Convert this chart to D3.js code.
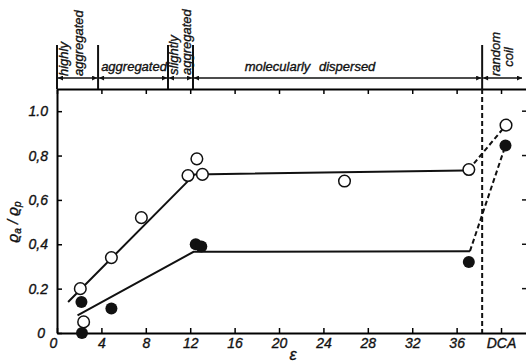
<!DOCTYPE html>
<html>
<head>
<meta charset="utf-8">
<script src="https://cdn.jsdelivr.net/npm/d3@7"></script>
<style>
  body { margin: 0; background: #fff; }
  svg { display: block; }
  text { font-family: "Liberation Sans", Arial, sans-serif; font-style: italic; fill: #111; stroke: #111; stroke-width: 0.35px; }
  .tick text { font-size: 14px; }
  .region { font-size: 13px; }
</style>
</head>
<body>
<div id="chart"></div>
<script>
// ---- data ----
const xTicks = [0, 4, 8, 12, 16, 20, 24, 28, 32, 36, 40];
const xTickLabels = ['0', '4', '8', '12', '16', '20', '24', '28', '32', '36', 'DCA'];
const yTicks = [0, 0.2, 0.4, 0.6, 0.8, 1.0];
const yTickLabels = ['0', '0.2', '0,4', '0,6', '0,8', '1.0'];

const openEps = [2.1, 2.4, 4.9, 7.6, 11.8, 12.6, 13.1, 25.9, 37.1, 40.45];
const openVal = [0.20, 0.05, 0.34, 0.52, 0.71, 0.785, 0.715, 0.685, 0.737, 0.937];
const filledEps = [2.2, 2.25, 4.9, 12.5, 13.0, 37.1, 40.4];
const filledVal = [0.14, 0.0, 0.11, 0.40, 0.39, 0.32, 0.845];

const upperFitEps = [1.0, 12.4, 36.7];
const upperFitVal = [0.14, 0.715, 0.733];
const upperDashEps = [37.1, 40.45];
const upperDashVal = [0.737, 0.937];
const lowerFitEps = [1.85, 12.3, 37.2];
const lowerFitVal = [0.08, 0.366, 0.369];
const lowerDashEps = [37.2, 40.4];
const lowerDashVal = [0.369, 0.845];

const regionBounds = [0, 3.7, 10.0, 12.25, 38.3, 42.25];
const dividerEps = 38.3;

// ---- layout ----
const W = 526, H = 364;
const x = d3.scaleLinear().domain([0, 42.25]).range([57, 526]);
const y = d3.scaleLinear().domain([0, 1.1]).range([333, 89]);

const svg = d3.select('#chart').append('svg').attr('width', W).attr('height', H);

const defs = svg.append('defs');
defs.append('marker').attr('id', 'arr').attr('viewBox', '0 0 10 10')
  .attr('refX', 10).attr('refY', 5).attr('markerWidth', 6).attr('markerHeight', 5)
  .attr('markerUnits', 'userSpaceOnUse').attr('orient', 'auto-start-reverse')
  .append('path').attr('d', 'M0,0L10,5L0,10Z').attr('fill', '#111');

// Axes
const xAxis = d3.axisBottom(x).tickValues(xTicks).tickSizeInner(-5).tickSizeOuter(0)
  .tickPadding(5).tickFormat((d, i) => xTickLabels[i]);
const gx = svg.append('g').attr('transform', `translate(0,${y(0)})`).call(xAxis);
gx.select('.domain').attr('stroke-width', 2);
gx.selectAll('.tick line').attr('stroke-width', 1.5);
gx.selectAll('.tick text').filter((d, i) => i === 0).attr('dx', -4);

const topAxis = d3.axisBottom(x).tickValues(xTicks).tickSizeInner(5).tickSizeOuter(0).tickFormat('');
const gt = svg.append('g').attr('transform', `translate(0,${y(1.1)})`).call(topAxis);
gt.select('.domain').attr('stroke-width', 2);
gt.selectAll('.tick line').attr('stroke-width', 1.5);

const yAxis = d3.axisLeft(y).tickValues(yTicks).tickSizeInner(-5).tickSizeOuter(0)
  .tickPadding(9).tickFormat((d, i) => yTickLabels[i]);
const gy = svg.append('g').attr('transform', `translate(${x(0)},0)`).call(yAxis);
gy.select('.domain').attr('stroke-width', 2);
gy.selectAll('.tick line').attr('stroke-width', 1.5);
gy.selectAll('.tick text').filter((d, i) => i === 0).attr('dx', -3);

// right-side ticks only
svg.append('g').selectAll('line').data(yTicks.slice(1)).join('line')
  .attr('x1', 522).attr('x2', 526).attr('y1', d => y(d)).attr('y2', d => y(d))
  .attr('stroke', '#111').attr('stroke-width', 1.5);

// left axis extends into top band
svg.append('line').attr('x1', x(0)).attr('x2', x(0)).attr('y1', 45).attr('y2', y(1.1))
  .attr('stroke', '#111').attr('stroke-width', 2);

// region separators & arrows
regionBounds.slice(1, -1).forEach(b => {
  svg.append('line').attr('x1', x(b)).attr('x2', x(b)).attr('y1', 45).attr('y2', y(1.1))
    .attr('stroke', '#111').attr('stroke-width', 2);
});
for (let i = 0; i < regionBounds.length - 1; i++) {
  const a = x(regionBounds[i]) + 1, b = x(regionBounds[i + 1]) - (i === regionBounds.length - 2 ? 4 : 1);
  svg.append('line').attr('x1', a).attr('x2', b).attr('y1', 78).attr('y2', 78)
    .attr('stroke', '#111').attr('stroke-width', 1.3)
    .attr('marker-start', 'url(#arr)').attr('marker-end', 'url(#arr)');
}

// region labels
function rotLabel(px, py, txt, anchor) {
  svg.append('text').attr('class', 'region')
    .attr('transform', `translate(${px},${py}) rotate(-90)`)
    .attr('text-anchor', anchor || 'start').text(txt);
}
rotLabel(68, 76, 'highly');
rotLabel(83, 76, 'aggregated');
rotLabel(178, 75, 'slightly');
rotLabel(191, 75, 'aggregated');
rotLabel(500, 54, 'random', 'middle');
rotLabel(513, 57, 'coil', 'middle');
svg.append('text').attr('class', 'region').attr('x', (x(3.7) + x(10)) / 2 + 1).attr('y', 71)
  .attr('text-anchor', 'middle').text('aggregated');
svg.append('text').attr('class', 'region').attr('x', 310).attr('y', 71)
  .attr('text-anchor', 'middle').style('word-spacing', '5px').text('molecularly dispersed');

// dashed divider
svg.append('line').attr('x1', x(dividerEps)).attr('x2', x(dividerEps)).attr('y1', y(1.1)).attr('y2', y(0))
  .attr('stroke', '#111').attr('stroke-width', 2).attr('stroke-dasharray', '5,3');

// fit lines
const line = d3.line().x(d => x(d[0])).y(d => y(d[1]));
function drawLine(eps, vals, dashed) {
  svg.append('path').attr('d', line(eps.map((e, i) => [e, vals[i]])))
    .attr('fill', 'none').attr('stroke', '#111').attr('stroke-width', 2)
    .attr('stroke-dasharray', dashed ? '5,3' : null);
}
drawLine(upperFitEps, upperFitVal);
drawLine(lowerFitEps, lowerFitVal);
drawLine(upperDashEps, upperDashVal, true);
drawLine(lowerDashEps, lowerDashVal, true);

// points
svg.append('g').selectAll('circle').data(openEps).join('circle')
  .attr('cx', d => x(d)).attr('cy', (d, i) => y(openVal[i])).attr('r', 5.8)
  .attr('fill', '#fff').attr('stroke', '#111').attr('stroke-width', 1.5);
svg.append('g').selectAll('circle').data(filledEps).join('circle')
  .attr('cx', d => x(d)).attr('cy', (d, i) => y(filledVal[i])).attr('r', 6)
  .attr('fill', '#111');

// axis titles
svg.append('text').attr('x', 293).attr('y', 360).attr('text-anchor', 'middle')
  .style('font-size', '16px').text('ε');
const yl = svg.append('text').attr('transform', 'translate(18,222) rotate(-90)')
  .attr('text-anchor', 'middle').style('font-size', '15px');
yl.append('tspan').text('ϱ');
yl.append('tspan').attr('dy', 3).style('font-size', '10px').text('a');
yl.append('tspan').attr('dy', -3).text(' / ϱ');
yl.append('tspan').attr('dy', 3).style('font-size', '10px').text('p');
</script>
</body>
</html>
